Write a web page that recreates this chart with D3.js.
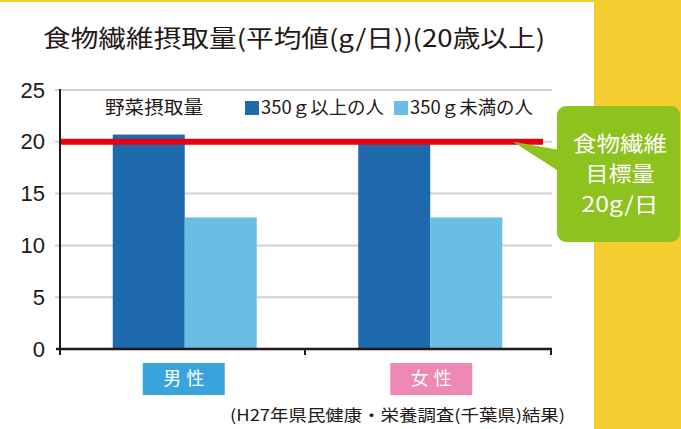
<!DOCTYPE html>
<html lang="ja">
<head>
<meta charset="UTF-8">
<title>食物繊維摂取量</title>
<script src="https://cdn.jsdelivr.net/npm/d3@7"></script>
<style>
  html, body { margin: 0; padding: 0; background: #fff; }
  svg { display: block; font-family: "Noto Sans CJK JP", "Noto Sans", sans-serif; }
</style>
</head>
<body>
<div id="grafica"></div>
<script>
// data
const categories = ['男性', '女性']
const seriesNames = ['350ｇ以上の人', '350ｇ未満の人']
const above350 = [20.7, 19.9]
const below350 = [12.7, 12.7]
const yTicks = [0, 5, 10, 15, 20, 25]
const targetValue = 20
const titleText = '食物繊維摂取量(平均値(g/日))(20歳以上)'
const legendTitle = '野菜摂取量'
const calloutLines = ['食物繊維', '目標量', '20g/日']
const sourceText = '(H27年県民健康・栄養調査(千葉県)結果)'

const ancho_total = 681, alto_total = 429
const colores = ['#1f69ad', '#6abee6']
const catColores = ['#3aa3dc', '#ee88b4']
const ink = '#231815'

const svg = d3.select('#grafica').append('svg')
  .attr('width', ancho_total)
  .attr('height', alto_total)

// yellow frame
svg.append('rect').attr('x', 0).attr('y', 0).attr('width', ancho_total).attr('height', alto_total).attr('fill', '#f4ce30')
svg.append('rect').attr('x', 0).attr('y', 2).attr('width', 594).attr('height', alto_total - 2).attr('fill', '#fff')

// title
svg.append('text')
  .attr('x', 43).attr('y', 47)
  .attr('font-size', 24).attr('fill', ink)
  .attr('textLength', 502).attr('lengthAdjust', 'spacingAndGlyphs')
  .text(titleText)

const x = d3.scaleBand()
  .domain(categories)
  .range([62, 553])
  .paddingInner(0.4134)
  .paddingOuter(0.2067)

const xs = d3.scaleBand()
  .domain(seriesNames)
  .range([0, x.bandwidth()])

const y = d3.scaleLinear()
  .domain([0, 25])
  .range([349, 90])

// grid
svg.append('g')
  .selectAll('line')
  .data(yTicks.filter(d => d > 0))
  .join('line')
  .attr('x1', 55).attr('x2', 552)
  .attr('y1', d => y(d)).attr('y2', d => y(d))
  .attr('stroke', '#cfd0d1').attr('stroke-width', 2)

// bars
const datos = categories.map((c, i) => ({cat: c, vals: [above350[i], below350[i]]}))
svg.append('g')
  .selectAll('g')
  .data(datos)
  .join('g')
  .attr('transform', d => 'translate(' + x(d.cat) + ',0)')
  .selectAll('rect')
  .data(d => d.vals.map((v, j) => ({s: seriesNames[j], v: v, j: j})))
  .join('rect')
  .attr('x', d => xs(d.s))
  .attr('width', xs.bandwidth())
  .attr('y', d => y(d.v))
  .attr('height', d => y(0) - y(d.v))
  .attr('fill', d => colores[d.j])

// y axis
const yAxis = svg.append('g')
  .attr('transform', 'translate(60,0)')
  .call(d3.axisLeft(y).tickValues(yTicks).tickSize(0).tickPadding(15))
yAxis.select('.domain').remove()
yAxis.selectAll('text')
  .attr('font-size', 22).attr('fill', ink)
  .attr('font-family', '"Liberation Sans", "Noto Sans", sans-serif')
  .attr('font-weight', 300)
svg.append('line')
  .attr('x1', 60).attr('x2', 60).attr('y1', 89).attr('y2', 355)
  .attr('stroke', ink).attr('stroke-width', 2)

// x axis
const xAxisLine = svg.append('g')
xAxisLine.append('line')
  .attr('x1', 56).attr('x2', 552).attr('y1', y(0)).attr('y2', y(0))
  .attr('stroke', ink).attr('stroke-width', 2.5)
xAxisLine.selectAll('.tk')
  .data([60, 305, 551])
  .join('line')
  .attr('class', 'tk')
  .attr('x1', d => d).attr('x2', d => d)
  .attr('y1', y(0)).attr('y2', y(0) + 6)
  .attr('stroke', ink).attr('stroke-width', 2)

// category labels
const catG = svg.append('g')
  .selectAll('g')
  .data(categories)
  .join('g')
  .attr('transform', (d, i) => 'translate(' + (x(d) + x.bandwidth() / 2 + (i ? 1 : -1)) + ',379)')
catG.append('rect')
  .attr('x', -41).attr('y', -16).attr('width', 82).attr('height', 32)
  .attr('fill', (d, i) => catColores[i])
catG.append('text')
  .attr('text-anchor', 'middle').attr('dy', '0.36em')
  .attr('font-size', 18).attr('fill', '#fff').attr('letter-spacing', 5)
  .attr('dx', 2.5)
  .text(d => d)

// target line
svg.append('line')
  .attr('x1', 61).attr('x2', 543)
  .attr('y1', y(targetValue)).attr('y2', y(targetValue))
  .attr('stroke', '#e60012').attr('stroke-width', 6)

// legend
svg.append('text')
  .attr('x', 105).attr('y', 114)
  .attr('font-size', 18).attr('fill', ink)
  .attr('textLength', 98).attr('lengthAdjust', 'spacingAndGlyphs')
  .text(legendTitle)
const legX = [245, 394]
const leg = svg.append('g')
  .selectAll('g')
  .data(seriesNames)
  .join('g')
  .attr('transform', (d, i) => 'translate(' + legX[i] + ',101)')
leg.append('rect')
  .attr('width', 14).attr('height', 14)
  .attr('fill', (d, i) => colores[i])
leg.append('text')
  .attr('x', 16).attr('y', 13)
  .attr('font-size', 18).attr('fill', ink)
  .attr('textLength', 123).attr('lengthAdjust', 'spacingAndGlyphs')
  .text(d => d)

// callout
const co = svg.append('g')
co.append('path')
  .attr('d', 'M513,' + y(targetValue) + ' L560,150 L560,172 Z')
  .attr('fill', '#8dc21f')
co.append('rect')
  .attr('x', 557).attr('y', 106).attr('width', 123).attr('height', 136).attr('rx', 9)
  .attr('fill', '#8dc21f')
const coLen = [94, 69, 77]
co.selectAll('text')
  .data(calloutLines)
  .join('text')
  .attr('x', 620)
  .attr('y', (d, i) => 143 + i * 30.5)
  .attr('dy', '0.36em')
  .attr('text-anchor', 'middle')
  .attr('font-size', 21).attr('fill', '#fff')
  .attr('textLength', (d, i) => coLen[i]).attr('lengthAdjust', 'spacingAndGlyphs')
  .text(d => d)

// source
svg.append('text')
  .attr('x', 230).attr('y', 421)
  .attr('font-size', 16).attr('fill', ink)
  .attr('textLength', 335).attr('lengthAdjust', 'spacingAndGlyphs')
  .text(sourceText)
</script>
</body>
</html>
